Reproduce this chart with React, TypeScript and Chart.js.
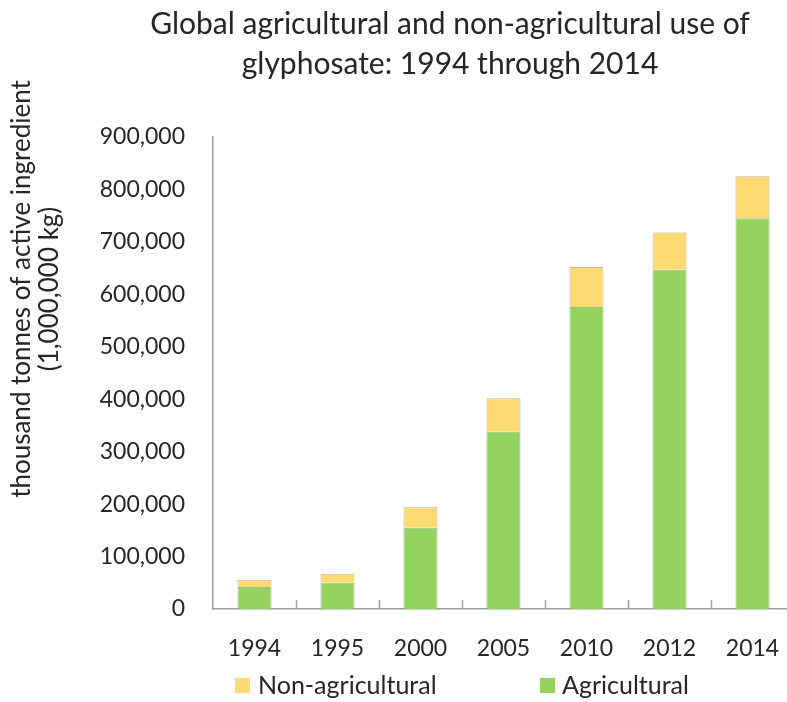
import React, { useEffect, useRef } from 'react';
import { Chart, registerables } from 'chart.js';

Chart.register(...registerables);

const years = ['1994', '1995', '2000', '2005', '2010', '2012', '2014'];
const agricultural = [42000, 50000, 155000, 338000, 576000, 647000, 745000];
const nonAgricultural = [14000, 17000, 39000, 64000, 76000, 71000, 80000];
const titleLines = ['Global agricultural and non-agricultural use of', 'glyphosate: 1994 through 2014'];
const yTitleLines = ['thousand tonnes of active ingredient', '(1,000,000 kg)'];
const seriesLabels = ['Agricultural', 'Non-agricultural'];

const FONT = 'Lato, "Open Sans", sans-serif';
const TEXT = '#262626';
const GREEN = '#94d35e';
const YELLOW = '#ffda72';

export default function App() {
  const ref = useRef<HTMLCanvasElement>(null);

  useEffect(() => {
    document.body.style.margin = '0';
    document.body.style.overflow = 'hidden';
    const canvas = ref.current;
    if (!canvas) return;

    const extras = {
      id: 'extras',
      afterDraw(chart: any) {
        const ctx = chart.ctx as CanvasRenderingContext2D;
        const area = chart.chartArea;
        ctx.save();
        // title (two lines)
        ctx.fillStyle = TEXT;
        ctx.font = `30px ${FONT}`;
        ctx.textAlign = 'center';
        ctx.textBaseline = 'middle';
        titleLines.forEach((line, i) => {
          ctx.fillText(line, 450, 24 + i * 40);
        });
        // inward tick marks on category boundaries
        const n = chart.data.labels.length;
        const step = (area.right - area.left) / n;
        ctx.strokeStyle = '#a0a0a0';
        ctx.lineWidth = 1.5;
        for (let i = 1; i < n; i++) {
          const x = Math.round(area.left + i * step) + 0.5;
          ctx.beginPath();
          ctx.moveTo(x, area.bottom);
          ctx.lineTo(x, area.bottom - 9);
          ctx.stroke();
        }
        // y axis title (two lines, rotated)
        ctx.fillStyle = TEXT;
        ctx.font = `26px ${FONT}`;
        ctx.textAlign = 'center';
        ctx.textBaseline = 'middle';
        const yCenters = [22, 50];
        yTitleLines.forEach((line, i) => {
          ctx.save();
          ctx.translate(yCenters[i], 289);
          ctx.rotate(-Math.PI / 2);
          ctx.fillText(line, 0, 0);
          ctx.restore();
        });
        // legend (reverse dataset order)
        const legendPos = [
          { box: 235, text: 258 },
          { box: 540, text: 562 },
        ];
        const ds = [...chart.data.datasets].reverse();
        ctx.font = `25px ${FONT}`;
        ctx.textAlign = 'left';
        ds.forEach((d: any, i: number) => {
          const p = legendPos[i];
          ctx.fillStyle = d.backgroundColor;
          ctx.fillRect(p.box, 678, 15, 15);
          ctx.fillStyle = TEXT;
          ctx.fillText(d.label, p.text, 686);
        });
        ctx.restore();
      },
    };

    const chart = new Chart(canvas, {
      type: 'bar',
      data: {
        labels: years,
        datasets: [
          {
            label: seriesLabels[0],
            data: agricultural,
            backgroundColor: GREEN,
            borderColor: 'rgba(120,160,80,0.7)',
            borderWidth: 1,
            categoryPercentage: 1,
            barPercentage: 0.41,
          },
          {
            label: seriesLabels[1],
            data: nonAgricultural,
            backgroundColor: YELLOW,
            borderColor: 'rgba(180,160,110,0.8)',
            borderWidth: 1,
            categoryPercentage: 1,
            barPercentage: 0.41,
          },
        ],
      },
      options: {
        responsive: false,
        animation: false,
        layout: { padding: { left: 0, right: 6, top: 137, bottom: 0 } },
        plugins: {
          legend: { display: false },
          tooltip: { enabled: false },
          title: { display: false },
        },
        scales: {
          x: {
            stacked: true,
            grid: { display: false },
            border: { display: true, color: '#a0a0a0', width: 1.5 },
            ticks: { color: TEXT, font: { family: FONT, size: 23 }, padding: 18, maxRotation: 0 },
            afterFit: (s: any) => { s.height = 93; },
          },
          y: {
            stacked: true,
            min: 0,
            max: 900000,
            grid: { display: false, drawTicks: false },
            border: { display: true, color: '#a0a0a0', width: 1.5 },
            ticks: {
              stepSize: 100000,
              color: TEXT,
              font: { family: FONT, size: 23 },
              padding: 28,
              callback: (v: any) => Number(v).toLocaleString('en-US'),
            },
            afterFit: (s: any) => { s.width = 213; },
          },
        },
      },
      plugins: [extras],
    });
    return () => chart.destroy();
  }, []);

  return <canvas ref={ref} width={800} height={702} style={{ display: 'block' }} />;
}
